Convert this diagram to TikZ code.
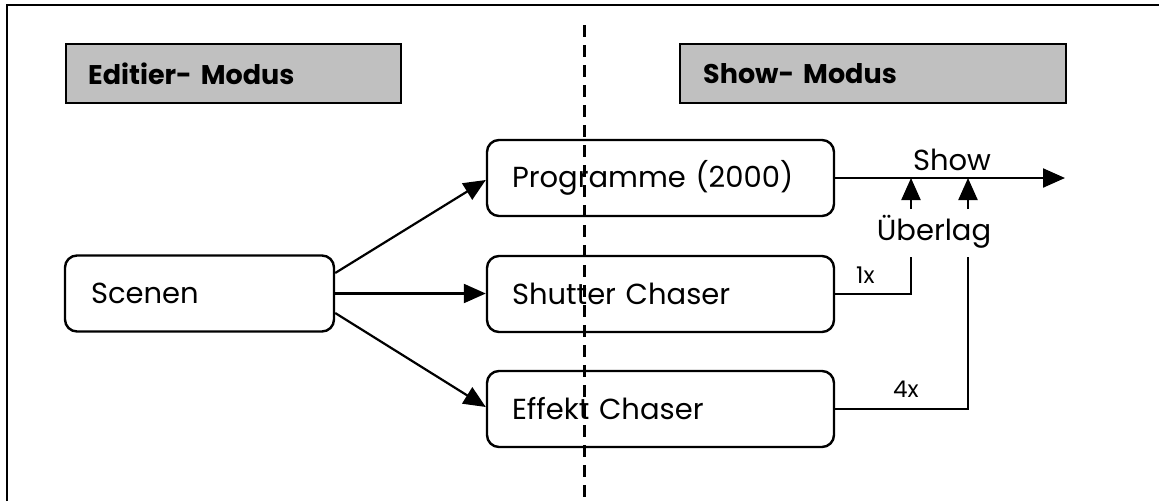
\documentclass[tikz,border=0pt]{standalone}
\usepackage{fontspec}
\setmainfont{Poppins}
\usetikzlibrary{arrows.meta}
\definecolor{hdrgray}{RGB}{192,192,192}
\begin{document}
\begin{tikzpicture}[x=1pt,y=-1pt,
  every node/.style={font=\fontsize{29}{33}\selectfont},
  box/.style={draw,line width=2.4pt,rounded corners=12pt,minimum height=76pt,inner xsep=0pt,inner ysep=0pt,align=left},
  hdr/.style={draw,line width=2.4pt,fill=hdrgray,minimum height=59pt,inner xsep=0pt,align=left,anchor=north west,font=\fontsize{27}{31}\selectfont\bfseries},
  conn/.style={line width=2.2pt},
  arr/.style={conn,-{Triangle[length=22pt,width=19pt]}},
  lbl/.style={inner sep=0pt,anchor=base},
  small/.style={inner sep=0pt,anchor=base west,font=\fontsize{23}{26}\selectfont}
]
\useasboundingbox (0,0) rectangle (1159,501);
% frame
\draw[line width=2.4pt] (7,501) -- (7,5) -- (1159,5);
% divider
\draw[line width=3pt,dash pattern=on 12pt off 8pt] (584,25) -- (584,501);
% headers
\node[hdr,minimum width=335pt,text width=335pt] (edit) at (65,43) {\hspace*{22pt}Editier- Modus};
\node[hdr,minimum width=386pt,text width=386pt] (showm) at (679,43) {\hspace*{23pt}Show- Modus};
% boxes
\node[box,minimum width=269pt,text width=269pt] (scen) at (199.5,293.5) {\hspace*{26pt}Scenen};
\node[box,minimum width=347pt,text width=347pt] (prog) at (660.5,178) {\hspace*{25pt}Programme (2000)};
\node[box,minimum width=347pt,text width=347pt] (shut) at (660.5,294) {\hspace*{25pt}Shutter Chaser};
\node[box,minimum width=347pt,text width=347pt] (eff) at (660.5,409) {\hspace*{25pt}Effekt Chaser};
% connectors from Scenen
\draw[arr] (scen.east |- 0,273) -- (prog.west |- 0,180);
\draw[arr] (scen.east |- 0,293.5) -- (shut.west |- 0,293.5);
\draw[arr] (scen.east |- 0,313) -- (eff.west |- 0,407);
% show line
\coordinate (showend) at (1065,178);
\draw[arr] (prog.east) -- (showend);
\node[lbl] (showlbl) at (952,170) {Show};
\node[lbl] (ueber) at (934,240) {Überlag};
\coordinate (ua) at (911,209);
\coordinate (ub) at (968,209);
\draw[arr] (ua) -- (ua |- prog.east);
\draw[arr] (ub) -- (ub |- prog.east);
% 1x / 4x
\coordinate (c1) at (911,257);
\coordinate (c4) at (968,257);
\draw[conn] (shut.east) -| (c1);
\draw[conn] (eff.east) -| (c4);
\node[small] (one) at (856,283) {1x};
\node[small] (four) at (893,397) {4x};
\end{tikzpicture}
\end{document}
